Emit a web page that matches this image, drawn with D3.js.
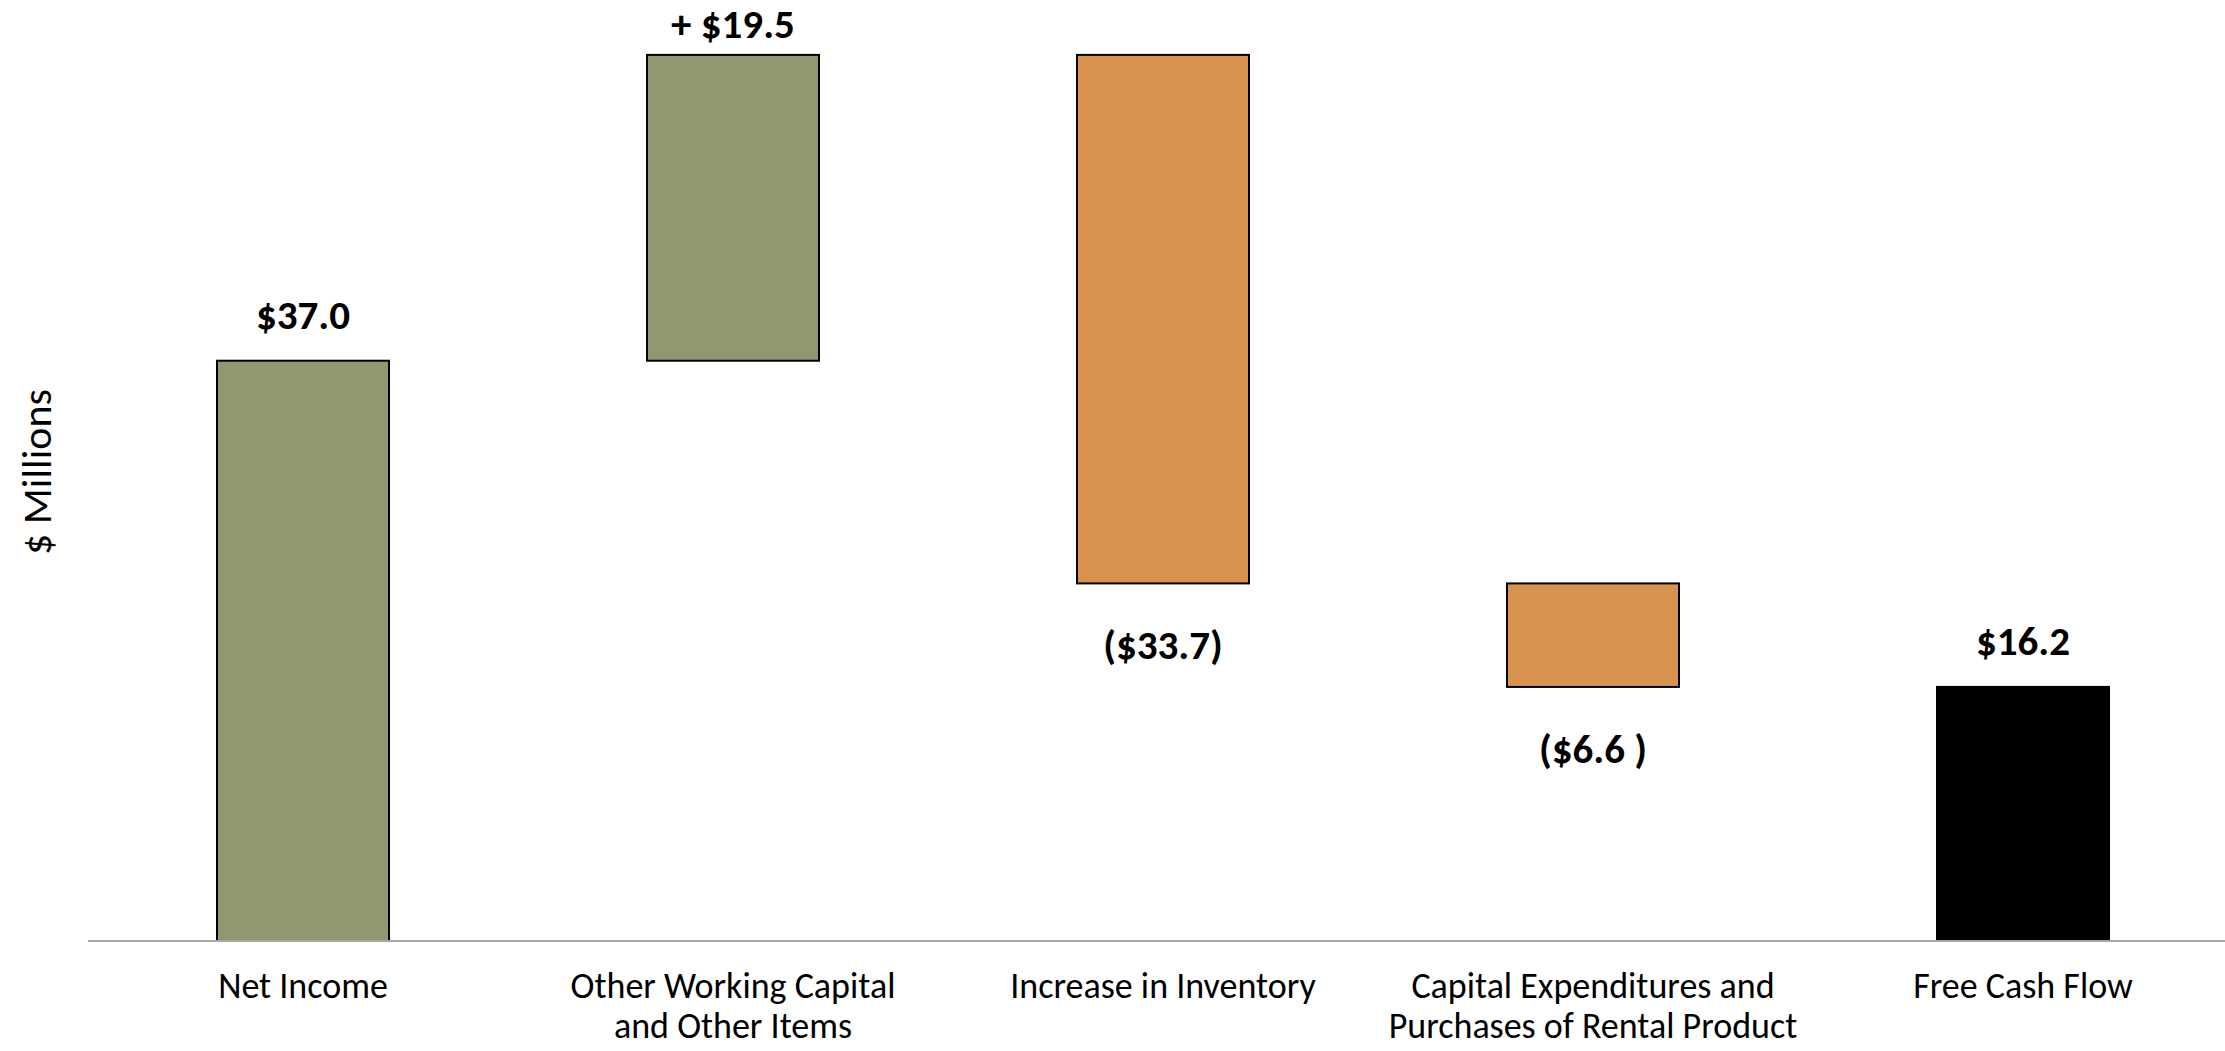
<!DOCTYPE html>
<html>
<head>
<meta charset="utf-8">
<script src="https://cdn.jsdelivr.net/npm/d3@7"></script>
<style>
  body { margin: 0; background: #fff; }
  svg { display: block; }
</style>
</head>
<body>
<div id="chart"></div>
<script>
// Waterfall data ($ millions)
const categories = [
  ['Net Income'],
  ['Other Working Capital', 'and Other Items'],
  ['Increase in Inventory'],
  ['Capital Expenditures and', 'Purchases of Rental Product'],
  ['Free Cash Flow']
];
const values = [37.0, 19.5, -33.7, -6.6, 16.2];
const kinds = ['total', 'increase', 'decrease', 'decrease', 'total'];
const valueLabels = ['$37.0', '+ $19.5', '($33.7)', '($6.6 )', '$16.2'];

const W = 2225;
const H = 1051;
const font = "Carlito, Calibri, 'Open Sans', sans-serif";
const colors = { total: '#919870', increase: '#919870', decrease: '#d9934f', end: '#000000' };

// Running sums give each bar its start and end.
let running = 0;
const data = values.map((v, i) => {
  let start;
  let end;
  if (kinds[i] === 'total') {
    start = 0;
    end = v;
    running = v;
  } else {
    start = running;
    end = running + v;
    running = end;
  }
  return { i, v, kind: kinds[i], start, end, label: valueLabels[i], cat: categories[i] };
});

const svg = d3.select('#chart')
  .append('svg')
  .attr('width', W)
  .attr('height', H);

const xScale = d3.scaleBand()
  .domain(d3.range(values.length))
  .range([88, 2238])
  .paddingInner(0.6)
  .paddingOuter(0.3);

const yScale = d3.scaleLinear().domain([0, 60]).range([941, 0]);

// Bars
svg.selectAll('rect.bar')
  .data(data).enter()
  .append('rect')
  .attr('class', 'bar')
  .attr('x', (d) => xScale(d.i))
  .attr('y', (d) => yScale(Math.max(d.start, d.end)))
  .attr('width', xScale.bandwidth())
  .attr('height', (d) => Math.abs(yScale(d.start) - yScale(d.end)))
  .attr('fill', (d, i) => (i === values.length - 1 ? colors.end : colors[d.kind]))
  .attr('stroke', '#000')
  .attr('stroke-width', 2);

// Baseline
svg.append('line')
  .attr('x1', 88)
  .attr('x2', W)
  .attr('y1', yScale(0))
  .attr('y2', yScale(0))
  .attr('stroke', '#a6a6a6')
  .attr('stroke-width', 2);

// Value labels: above rising bars, below falling ones
svg.selectAll('text.val')
  .data(data).enter()
  .append('text')
  .attr('class', 'val')
  .attr('x', (d) => xScale(d.i) + xScale.bandwidth() / 2)
  .attr('y', (d) => (d.v < 0
    ? yScale(d.end) + 76
    : Math.max(yScale(d.end) - 32, 38)))
  .attr('text-anchor', 'middle')
  .style('font-family', font)
  .style('font-weight', 'bold')
  .style('font-size', '41px')
  .attr('fill', '#000')
  .style('white-space', 'pre')
  .text((d) => d.label);

// Category labels
const cats = svg.selectAll('text.cat')
  .data(data).enter()
  .append('text')
  .attr('class', 'cat')
  .attr('x', (d) => xScale(d.i) + xScale.bandwidth() / 2)
  .attr('y', 998)
  .attr('text-anchor', 'middle')
  .style('font-family', font)
  .style('font-size', '36px')
  .attr('fill', '#000');

cats.selectAll('tspan')
  .data((d) => d.cat.map((line) => ({ line, x: xScale(d.i) + xScale.bandwidth() / 2 })))
  .enter()
  .append('tspan')
  .attr('x', (t) => t.x)
  .attr('dy', (t, j) => (j === 0 ? 0 : 40))
  .text((t) => t.line);

// Y axis title
svg.append('text')
  .attr('transform', 'translate(36, 472) rotate(-90)')
  .attr('text-anchor', 'middle')
  .attr('dy', '0.35em')
  .style('font-family', font)
  .style('font-size', '42px')
  .text('$ Millions');
</script>
</body>
</html>
